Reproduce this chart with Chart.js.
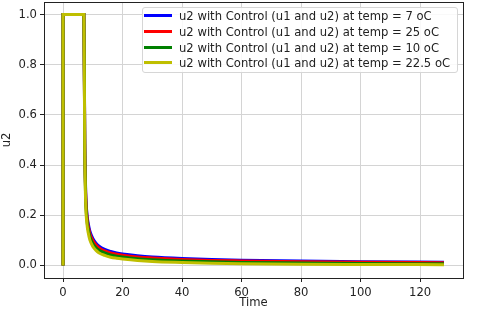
<!DOCTYPE html>
<html>
<head>
<meta charset="utf-8">
<script src="https://cdn.jsdelivr.net/npm/chart.js@4"></script>
<style>
  html, body { margin: 0; padding: 0; background: #fff; }
  #wrap { position: relative; width: 480px; height: 310px; }
  #legenda {
    position: absolute; left: 142px; top: 7px; width: 314px; height: 64px;
    border: 1px solid #d6d6d6; border-radius: 3px; background: rgba(255,255,255,0.85);
    font-family: "DejaVu Sans", sans-serif; font-size: 11.6px; color: #222;
  }
  .linha { position: absolute; left: 0; height: 16px; white-space: nowrap; }
  .amostra { position: absolute; left: 1px; top: 6px; width: 28px; height: 3px; }
  .rotulo { position: absolute; left: 36px; top: 0; line-height: 16px; }
</style>
</head>
<body>
<div id="wrap">
  <canvas id="grafico" width="480" height="310"></canvas>
  <div id="legenda"></div>
</div>
<script>
// Dados
const tempo = [0, 0, 7, 7.3, 7.6, 8, 8.5, 9, 10, 11, 12, 14, 16, 18, 20, 25, 30, 40, 50, 60, 80, 100, 128];
const u2Temp7 = [0, 1, 1, 0.5, 0.3, 0.21, 0.165, 0.138, 0.108, 0.09, 0.078, 0.064, 0.056, 0.05, 0.046, 0.039, 0.034, 0.028, 0.024, 0.021, 0.018, 0.015, 0.013];
const u2Temp25 = [0, 1, 1, 0.49, 0.29, 0.2, 0.155, 0.128, 0.1, 0.083, 0.071, 0.058, 0.05, 0.045, 0.041, 0.034, 0.03, 0.024, 0.02, 0.018, 0.015, 0.013, 0.011];
const u2Temp10 = [0, 1, 1, 0.47, 0.27, 0.185, 0.142, 0.116, 0.088, 0.072, 0.062, 0.05, 0.042, 0.037, 0.034, 0.027, 0.023, 0.018, 0.015, 0.012, 0.01, 0.008, 0.007];
const u2Temp225 = [0, 1, 1, 0.45, 0.25, 0.17, 0.128, 0.102, 0.076, 0.061, 0.051, 0.04, 0.033, 0.029, 0.026, 0.02, 0.016, 0.012, 0.009, 0.007, 0.005, 0.004, 0.003];

const rotulos = [
    'u2 with Control (u1 and u2) at temp = 7 oC',
    'u2 with Control (u1 and u2) at temp = 25 oC',
    'u2 with Control (u1 and u2) at temp = 10 oC',
    'u2 with Control (u1 and u2) at temp = 22.5 oC',
];
const cores = ['#0000ff', '#ff0000', '#008000', '#bfbf00'];
const ticksX = [0, 20, 40, 60, 80, 100, 120];
const ticksY = [0.0, 0.2, 0.4, 0.6, 0.8, 1.0];

const fonte = { family: 'DejaVu Sans', size: 11.6 };

function pontos(valores) {
    return tempo.map((t, i) => ({ x: t, y: valores[i] }));
}

// Moldura completa (estilo matplotlib)
const moldura = {
    id: 'moldura',
    afterDraw(chart) {
        const { ctx, chartArea: a } = chart;
        ctx.save();
        ctx.strokeStyle = '#222';
        ctx.lineWidth = 1;
        ctx.strokeRect(Math.round(a.left) + 0.5, Math.round(a.top) + 0.5,
            Math.round(a.right - a.left), Math.round(a.bottom - a.top));
        ctx.restore();
    }
};

const series = [u2Temp7, u2Temp25, u2Temp10, u2Temp225];

new Chart(document.getElementById('grafico'), {
    type: 'line',
    data: {
        datasets: series.map((s, i) => ({
            label: rotulos[i],
            data: pontos(s),
            borderColor: cores[i],
            backgroundColor: cores[i],
            borderWidth: 3,
            pointRadius: 0,
            cubicInterpolationMode: 'monotone',
            order: 4 - i,
        }))
    },
    options: {
        responsive: false,
        animation: false,
        layout: { padding: { top: 2, right: 17, left: 0, bottom: 0 } },
        plugins: {
            legend: { display: false },
            tooltip: { enabled: false },
        },
        scales: {
            x: {
                type: 'linear',
                min: -6.4,
                max: 134.4,
                afterBuildTicks: s => { s.ticks = ticksX.map(v => ({ value: v })); },
                afterFit: s => { s.height = 32; s.paddingLeft = 0; s.paddingRight = 0; },
                ticks: { font: fonte, color: '#222', padding: 4, maxRotation: 0 },
                grid: { color: '#d4d4d4', tickColor: '#222', tickLength: 4 },
                border: { color: '#222' },
                title: { display: true, text: 'Time', font: fonte, color: '#222', padding: { top: 0, bottom: 0 } },
            },
            y: {
                min: -0.05,
                max: 1.05,
                afterBuildTicks: s => { s.ticks = ticksY.map(v => ({ value: v })); },
                afterFit: s => { s.width = 44; s.paddingTop = 0; s.paddingBottom = 0; },
                ticks: { font: fonte, color: '#222', padding: 3, callback: v => v.toFixed(1) },
                grid: { color: '#d4d4d4', tickColor: '#222', tickLength: 4 },
                border: { color: '#222' },
                title: { display: true, text: 'u2', font: fonte, color: '#222', padding: { top: 0, bottom: 2 } },
            }
        }
    },
    plugins: [moldura]
});

// Legenda em HTML
const legenda = document.getElementById('legenda');
legenda.innerHTML = rotulos.map((r, i) => `
    <div class="linha" style="top:${i * 15.8}px">
        <span class="amostra" style="background:${cores[i]}"></span>
        <span class="rotulo">${r}</span>
    </div>
`).join('');
</script>
</body>
</html>
